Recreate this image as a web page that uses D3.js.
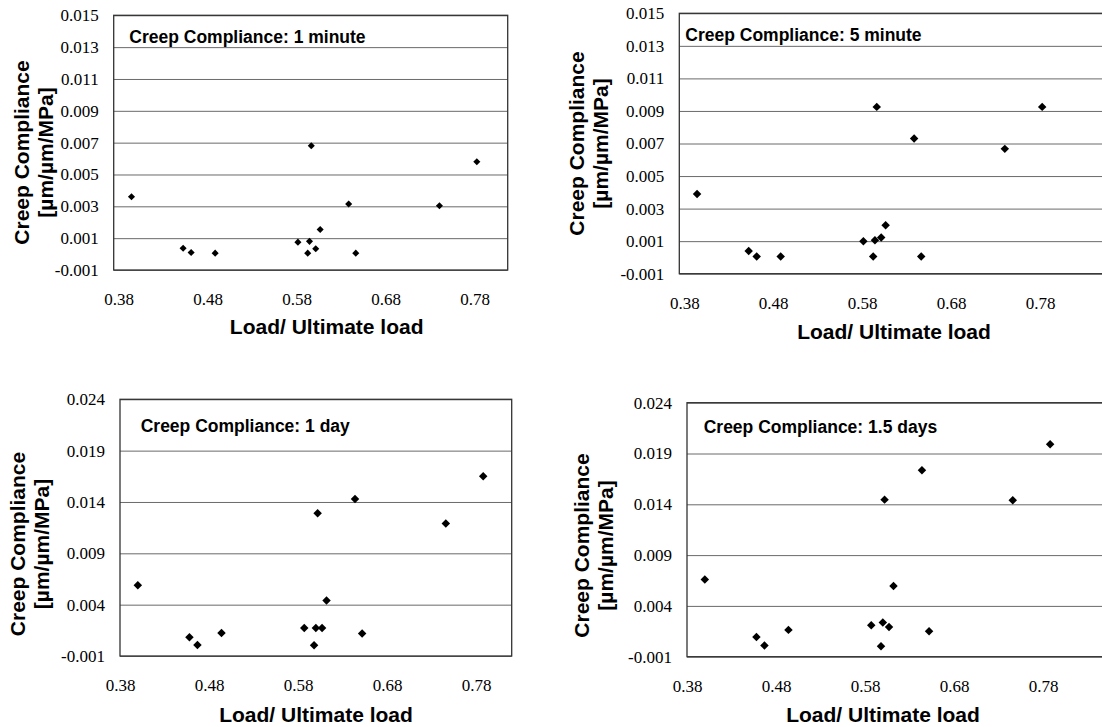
<!DOCTYPE html>
<html>
<head>
<meta charset="utf-8">
<script src="https://cdn.jsdelivr.net/npm/d3@7"></script>
<style>
    body { margin: 0; background: #fff; }
    svg { display: block; }
    .tick text { font-family: 'Liberation Serif', 'Times New Roman', serif; font-size: 17px; fill: #000; }
</style>
</head>
<body>
<div id="chart"></div>
<script>

// load ratio of each specimen (same for all four panels)
let loadRatio = [0.400, 0.458, 0.467, 0.494, 0.587, 0.598, 0.600, 0.602, 0.607, 0.612, 0.644, 0.652, 0.746, 0.788];

// creep compliance per specimen [um/um/MPa]
let compliance1min = [0.0036, 0.00037, 0.0001, 0.00006, 0.00075, 0.00006, 0.0008, 0.0068, 0.00033, 0.00154, 0.00315, 0.00006, 0.00304, 0.0058];
let compliance5min = [0.0039, 0.00039, 0.00006, 0.00006, 0.001, 0.00006, 0.00106, 0.00925, 0.00123, 0.00198, 0.0073, 0.00006, 0.00667, 0.00925];
let compliance1day = [0.0059, 0.00082, 0.00007, 0.00124, 0.00173, 0.00004, 0.00173, 0.0129, 0.00173, 0.0044, 0.0143, 0.0012, 0.0119, 0.0165];
let compliance15day = [0.0066, 0.00095, 0.0001, 0.00164, 0.0021, 0.00003, 0.00236, 0.01446, 0.00193, 0.00597, 0.01736, 0.0015, 0.0144, 0.0199];

// tick labels
let xTicks = [0.38, 0.48, 0.58, 0.68, 0.78];
let yTicksShort = [-0.001, 0.001, 0.003, 0.005, 0.007, 0.009, 0.011, 0.013, 0.015];
let yTicksLong = [-0.001, 0.004, 0.009, 0.014, 0.019, 0.024];

let panelTitles = ["Creep Compliance: 1 minute", "Creep Compliance: 5 minute",
    "Creep Compliance: 1 day", "Creep Compliance: 1.5 days"];
let xTitle = "Load/ Ultimate load";
let yTitle = ["Creep Compliance", "[µm/µm/MPa]"];


/* * * * * * * * * * * * * *
*     class ScatterPanel    *
* * * * * * * * * * * * * */

class ScatterPanel {

    constructor(svg, layout, title, xValues, yValues, yTicks) {
        this.svg = svg;
        this.layout = layout;
        this.title = title;
        this.xValues = xValues;
        this.yValues = yValues;
        this.yTicks = yTicks;

        this.initVis();
    }

    initVis() {
        let vis = this;
        let L = vis.layout;

        vis.width = L.right - L.left;
        vis.height = L.bottom - L.top;

        vis.g = vis.svg.append("g")
            .attr("transform", `translate(${L.left}, ${L.top})`);

        vis.x = d3.scaleLinear()
            .domain([0.38, L.xMax])
            .range([0, vis.width]);

        vis.y = d3.scaleLinear()
            .domain([vis.yTicks[0], vis.yTicks[vis.yTicks.length - 1]])
            .range([vis.height, 0]);

        vis.wrangleData();
    }

    wrangleData() {
        let vis = this;

        vis.points = vis.xValues.map((d, i) => ({x: d, y: vis.yValues[i]}));

        vis.updateVis();
    }

    updateVis() {
        let vis = this;
        let L = vis.layout;

        // y axis with gridlines
        let yAxis = vis.g.append("g")
            .attr("class", "y-axis")
            .call(d3.axisLeft(vis.y)
                .tickValues(vis.yTicks)
                .tickSize(-vis.width)
                .tickPadding(15)
                .tickFormat(d => d.toFixed(3)));

        yAxis.select(".domain").remove();
        yAxis.selectAll(".tick line")
            .attr("stroke", "#6a6a6a")
            .attr("stroke-width", 1);

        // x axis labels only
        let xAxis = vis.g.append("g")
            .attr("class", "x-axis")
            .attr("transform", `translate(0, ${vis.height})`)
            .call(d3.axisBottom(vis.x)
                .tickValues(xTicks)
                .tickSize(0)
                .tickPadding(23)
                .tickFormat(d => d.toFixed(2)));

        xAxis.select(".domain").remove();
        xAxis.selectAll(".tick text")
            .attr("dx", L.labelDx);

        // plot area border
        vis.g.append("rect")
            .attr("width", vis.width)
            .attr("height", vis.height)
            .attr("fill", "none")
            .attr("stroke", "#333")
            .attr("stroke-width", 1.3);

        // markers
        let diamond = d3.symbol().type(d3.symbolSquare).size(L.marker);

        vis.g.selectAll(".point")
            .data(vis.points)
            .enter()
            .append("path")
            .attr("class", "point")
            .attr("d", diamond)
            .attr("transform", d => `translate(${vis.x(d.x)}, ${vis.y(d.y)}) rotate(45)`)
            .attr("fill", "#000");

        // annotation inside the plot
        vis.svg.append("text")
            .attr("x", L.annot[0])
            .attr("y", L.annot[1])
            .attr("font-family", "'Liberation Sans', Arial, sans-serif")
            .attr("font-weight", "bold")
            .attr("font-size", "17.5px")
            .text(vis.title);

        // x title
        vis.svg.append("text")
            .attr("x", L.xTitle[0])
            .attr("y", L.xTitle[1])
            .attr("text-anchor", "middle")
            .attr("font-family", "'Liberation Sans', Arial, sans-serif")
            .attr("font-weight", "bold")
            .attr("font-size", "21px")
            .text(xTitle);

        // y title, two lines
        yTitle.forEach((t, i) => {
            vis.svg.append("text")
                .attr("transform", `translate(${L.yTitle[i + 1]}, ${L.yTitle[0]}) rotate(-90)`)
                .attr("text-anchor", "middle")
                .attr("font-family", "'Liberation Sans', Arial, sans-serif")
                .attr("font-weight", "bold")
                .attr("font-size", "21px")
                .text(t);
        });
    }
}


let svg = d3.select("#chart").append("svg")
    .attr("width", 1102)
    .attr("height", 727);

new ScatterPanel(svg,
    {left: 113.7, top: 15.3, right: 507.7, bottom: 270, xMax: 0.8227, labelDx: 5, marker: 25,
        annot: [129.3, 43.3], xTitle: [326.7, 334.3], yTitle: [152.5, 28.5, 52.5]},
    panelTitles[0], loadRatio, compliance1min, yTicksShort);

new ScatterPanel(svg,
    {left: 679.3, top: 13.3, right: 1124, bottom: 273.7, xMax: 0.88, labelDx: 5, marker: 36,
        annot: [685.3, 40.7], xTitle: [894, 339], yTitle: [143.5, 584.3, 608.3]},
    panelTitles[1], loadRatio, compliance5min, yTicksShort);

new ScatterPanel(svg,
    {left: 120, top: 399.3, right: 511.7, bottom: 656, xMax: 0.82, labelDx: 0, marker: 36,
        annot: [140.7, 431.7], xTitle: [316, 721.7], yTitle: [544, 25, 49]},
    panelTitles[2], loadRatio, compliance1day, yTicksLong);

new ScatterPanel(svg,
    {left: 687, top: 402.7, right: 1124, bottom: 656.7, xMax: 0.871, labelDx: 0, marker: 36,
        annot: [703.7, 432.7], xTitle: [883, 721.7], yTitle: [545.5, 589.3, 613.3]},
    panelTitles[3], loadRatio, compliance15day, yTicksLong);

</script>
</body>
</html>
